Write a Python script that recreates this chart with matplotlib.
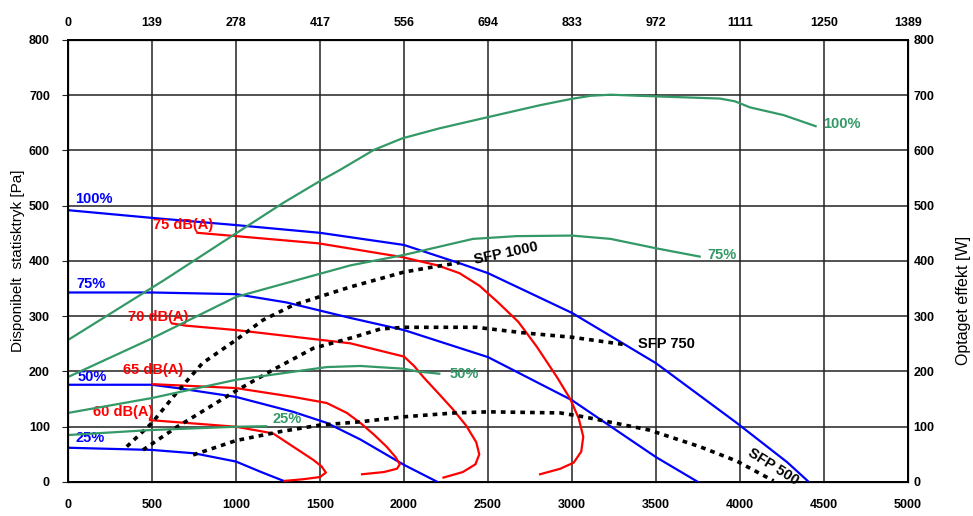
import matplotlib
matplotlib.use("Agg")
import matplotlib.pyplot as plt

plt.rcParams['font.family'] = ['Liberation Sans', 'DejaVu Sans']

# luftmaengde [m3/h] paa bundaksen, [l/s] paa topaksen
x_ticks = [0, 500, 1000, 1500, 2000, 2500, 3000, 3500, 4000, 4500, 5000]
top_labels = ['0', '139', '278', '417', '556', '694', '833', '972', '1111', '1250', '1389']
y_ticks = [0, 100, 200, 300, 400, 500, 600, 700, 800]

# ventilatorkurver (blaa) - statisktryk [Pa]
fan100_x = [0, 500, 1000, 1500, 2000, 2330, 2500, 3000, 3500, 3980, 4280, 4410]
fan100_y = [492, 478, 465, 451, 429, 396, 378, 306, 215, 107, 36, 0]
fan75_x = [0, 500, 1000, 1300, 1680, 2000, 2500, 3000, 3500, 3750]
fan75_y = [343, 343, 340, 325, 297, 275, 226, 148, 45, 0]
fan50_x = [0, 500, 650, 1000, 1340, 1540, 1740, 2000, 2200]
fan50_y = [176, 176, 170, 154, 127, 107, 77, 31, 0]
fan25_x = [0, 500, 750, 1000, 1150, 1300]
fan25_y = [62, 58, 52, 37, 18, 0]

# lydniveau (roed)
db75_x = [770, 1000, 1490, 1990, 2200, 2330, 2450, 2560, 2680, 2790, 2910, 2990, 3040, 3067,
          3055, 3010, 2930, 2810]
db75_y = [451, 445, 432, 407, 392, 378, 355, 325, 290, 245, 190, 150, 115, 82,
          55, 35, 24, 14]
db70_x = [620, 700, 1000, 1680, 2000, 2060, 2115, 2200, 2290, 2370, 2430, 2448, 2425, 2350, 2235]
db70_y = [287, 283, 275, 251, 227, 210, 190, 162, 132, 102, 72, 50, 32, 18, 8]
db65_x = [506, 1000, 1340, 1540, 1660, 1740, 1820, 1896, 1950, 1975, 1958, 1880, 1750]
db65_y = [177, 170, 154, 143, 125, 107, 86, 64, 45, 32, 24, 18, 14]
db60_x = [488, 1000, 1220, 1340, 1460, 1510, 1535, 1500, 1400, 1290]
db60_y = [112, 100, 88, 64, 40, 28, 17, 9, 5, 2]

# SFP linjer (sort prikket)
sfp1000_x = [350, 500, 650, 800, 1000, 1160, 1340, 1680, 2000, 2170, 2330]
sfp1000_y = [64, 107, 163, 215, 257, 293, 320, 353, 380, 389, 397]
sfp750_x = [446, 650, 1000, 1220, 1460, 1700, 1860, 2000, 2430, 2710, 3000, 3330]
sfp750_y = [58, 100, 165, 203, 242, 262, 277, 280, 280, 270, 262, 248]
sfp500_x = [745, 1000, 1260, 1500, 1740, 2000, 2300, 2500, 2930, 3070, 3460, 3760, 3980, 4200]
sfp500_y = [49, 75, 91, 103, 109, 118, 125, 127, 125, 118, 94, 64, 38, 2]

# optaget effekt [W] (groen)
pow100_x = [0, 570, 1000, 1280, 1490, 1620, 1820, 1990, 2210, 2480, 2810, 2990, 3110, 3230,
            3400, 3880, 3970, 4060, 4260, 4450]
pow100_y = [257, 365, 450, 505, 543, 565, 601, 622, 640, 659, 682, 693, 699, 701,
            699, 694, 689, 678, 664, 644]
pow75_x = [0, 500, 1000, 1680, 2000, 2410, 2670, 3000, 3230, 3500, 3760]
pow75_y = [190, 260, 335, 392, 411, 440, 445, 446, 440, 423, 408]
pow50_x = [0, 500, 1000, 1540, 1740, 2000, 2080, 2210]
pow50_y = [125, 152, 185, 208, 210, 205, 200, 196]
pow25_x = [0, 490, 1000, 1180]
pow25_y = [85, 94, 100, 101]

blue = '#0000ff'
red = '#ff0000'
green = '#339966'

fig = plt.figure(figsize=(9.73, 5.16), dpi=100)
ax = fig.add_axes([0.0699, 0.0659, 0.8633, 0.8566])

for xs, ys in [(fan100_x, fan100_y), (fan75_x, fan75_y), (fan50_x, fan50_y), (fan25_x, fan25_y)]:
    ax.plot(xs, ys, color=blue, lw=1.6, zorder=3)
for xs, ys in [(db75_x, db75_y), (db70_x, db70_y), (db65_x, db65_y), (db60_x, db60_y)]:
    ax.plot(xs, ys, color=red, lw=1.6, zorder=3)
for xs, ys in [(sfp1000_x, sfp1000_y), (sfp750_x, sfp750_y), (sfp500_x, sfp500_y)]:
    ax.plot(xs, ys, color='black', lw=2.6, ls=(0, (1.3, 1.4)), zorder=4)

ax.set_xlim(0, 5000)
ax.set_ylim(0, 800)
ax.set_xticks(x_ticks)
ax.set_yticks(y_ticks)
ax.grid(True, color='#222222', lw=1.1)
ax.tick_params(axis='x', length=0, pad=12, labelsize=9)
ax.tick_params(axis='y', length=4, pad=9, labelsize=9, color='#222222')
for lab in ax.get_xticklabels() + ax.get_yticklabels():
    lab.set_fontweight('bold')
for s in ax.spines.values():
    s.set_linewidth(1.4)
ax.set_ylabel('Disponibelt  statisktryk [Pa]', fontsize=11)
ax.yaxis.set_label_coords(-0.051, 0.5)

# hoejre akse - effekt
ax_r = ax.twinx()
ax_r.set_ylim(0, 800)
ax_r.set_yticks(y_ticks)
ax_r.tick_params(axis='y', length=0, pad=4, labelsize=9)
for lab in ax_r.get_yticklabels():
    lab.set_fontweight('bold')
ax_r.set_ylabel('Optaget effekt [W]', fontsize=11.5)
ax_r.yaxis.set_label_coords(1.057, 0.41)
for xs, ys in [(pow100_x, pow100_y), (pow75_x, pow75_y), (pow50_x, pow50_y), (pow25_x, pow25_y)]:
    ax_r.plot(xs, ys, color=green, lw=1.6, zorder=3)

# topakse - l/s
ax_t = ax.twiny()
ax_t.set_xlim(0, 5000)
ax_t.set_xticks(x_ticks)
ax_t.set_xticklabels(top_labels, fontweight='bold', fontsize=9)
ax_t.tick_params(axis='x', length=0, pad=8)

lab_kw = dict(fontsize=10.5, fontweight='bold', va='center', zorder=6)
ax.text(40, 512, '100%', color=blue, **lab_kw)
ax.text(50, 358, '75%', color=blue, **lab_kw)
ax.text(55, 190, '50%', color=blue, **lab_kw)
ax.text(45, 80, '25%', color=blue, **lab_kw)
ax.text(506, 465, '75 dB(A)', color=red, **lab_kw)
ax.text(357, 299, '70 dB(A)', color=red, **lab_kw)
ax.text(327, 203, '65 dB(A)', color=red, **lab_kw)
ax.text(149, 127, '60 dB(A)', color=red, **lab_kw)
ax.text(4494, 648, '100%', color=green, **lab_kw)
ax.text(3804, 411, '75%', color=green, **lab_kw)
ax.text(2274, 195, '50%', color=green, **lab_kw)
ax.text(1220, 114, '25%', color=green, **lab_kw)
ax.text(2607, 413, 'SFP 1000', color='black', ha='center', rotation=12, **lab_kw)
ax.text(3393, 250, 'SFP 750', color='black', **lab_kw)
ax.text(4200, 27, 'SFP 500', color='black', ha='center', rotation=-32, **lab_kw)

fig.savefig('out.png', dpi=100)
